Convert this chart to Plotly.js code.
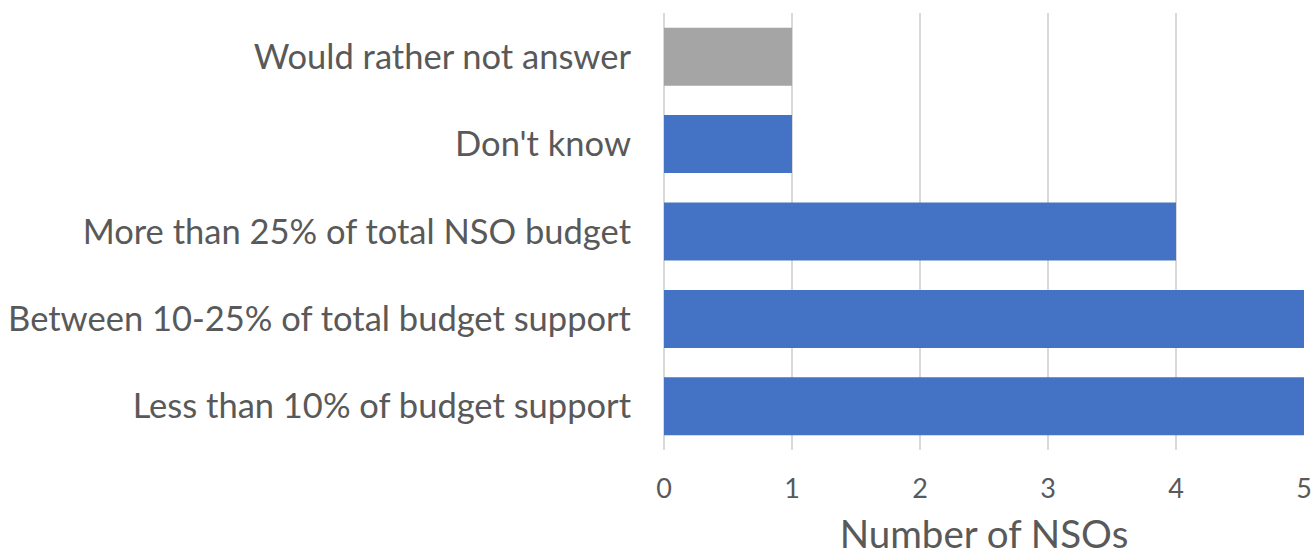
<!DOCTYPE html>
<html>
<head>
<meta charset="utf-8">
<script src="https://cdn.plot.ly/plotly-3.0.1.min.js"></script>
<style>html,body{margin:0;padding:0;background:#fff;}#chart{width:1312px;height:556px;}</style>
</head>
<body>
<div id="chart"></div>
<script>
// Data (bottom to top)
const categories = [
  "Less than 10% of budget support",
  "Between 10-25% of total budget support",
  "More than 25% of total NSO budget",
  "Don't know",
  "Would rather not answer"
];
const counts = [5, 5, 4, 1, 1];
const xTickValues = [0, 1, 2, 3, 4, 5];
const xTitle = "Number of NSOs";

const BLUE = "#4472C4";
const GRAY = "#A5A5A5";
const TEXT = "#595959";
const colors = categories.map(c => c === "Would rather not answer" ? GRAY : BLUE);

const trace = {
  type: "bar",
  orientation: "h",
  y: categories,
  x: counts,
  marker: {color: colors, line: {width: 0}},
  hoverinfo: "x+y"
};

const layout = {
  width: 1312, height: 556,
  margin: {l: 664, r: 8, t: 13, b: 106, pad: 0},
  paper_bgcolor: "#fff", plot_bgcolor: "#fff",
  font: {family: "Lato, 'Open Sans', sans-serif", color: TEXT},
  bargap: 0.336,
  showlegend: false,
  xaxis: {
    range: [0, 5],
    tickvals: xTickValues,
    ticktext: xTickValues.map(String),
    showgrid: true, gridcolor: "#D9D9D9", gridwidth: 2,
    zeroline: true, zerolinecolor: "#D9D9D9", zerolinewidth: 2,
    showline: false,
    ticks: "",
    ticklabelstandoff: 20,
    tickfont: {size: 27, color: TEXT},
    title: {text: xTitle, font: {size: 38.5, color: TEXT}, standoff: 28},
    fixedrange: true
  },
  yaxis: {
    type: "category",
    categoryorder: "array", categoryarray: categories,
    showgrid: false, zeroline: false, showline: false,
    ticks: "",
    ticklabelstandoff: 32,
    tickfont: {size: 34.5, color: TEXT},
    automargin: false,
    fixedrange: true
  }
};

Plotly.newPlot("chart", [trace], layout, {displayModeBar: false, staticPlot: true});
</script>
</body>
</html>
